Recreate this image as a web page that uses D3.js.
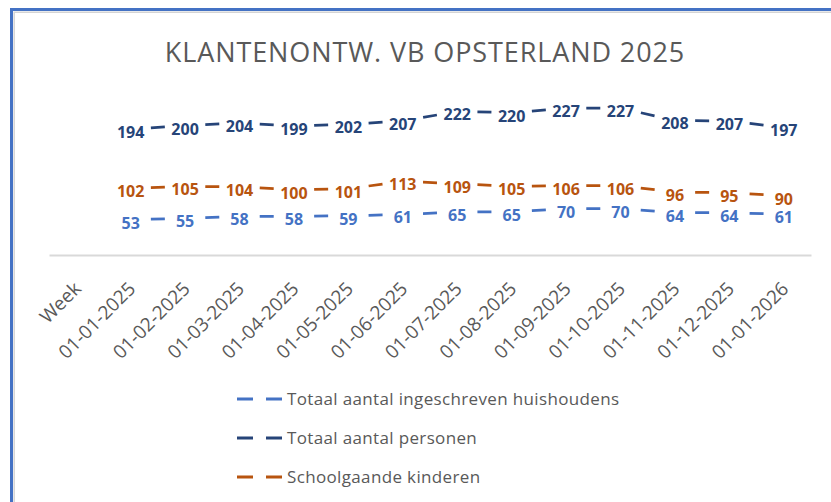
<!DOCTYPE html>
<html>
<head>
<meta charset="utf-8">
<script src="https://cdn.jsdelivr.net/npm/d3@7"></script>
<style>
  body { margin: 0; background: #fff; }
  text { font-family: "Open Sans", sans-serif; }
</style>
</head>
<body>
<div id="chart"></div>
<script>
// Data
const categories = ["Week", "01-01-2025", "01-02-2025", "01-03-2025", "01-04-2025", "01-05-2025",
    "01-06-2025", "01-07-2025", "01-08-2025", "01-09-2025", "01-10-2025", "01-11-2025",
    "01-12-2025", "01-01-2026"];
const dates = categories.slice(1);
const huishoudens = [53, 55, 58, 58, 59, 61, 65, 65, 70, 70, 64, 64, 61];
const personen = [194, 200, 204, 199, 202, 207, 222, 220, 227, 227, 208, 207, 197];
const kinderen = [102, 105, 104, 100, 101, 113, 109, 105, 106, 106, 96, 95, 90];
const seriesNames = ["Totaal aantal ingeschreven huishoudens", "Totaal aantal personen", "Schoolgaande kinderen"];
const seriesColors = ["#4472C4", "#264478", "#B8540F"];

const W = 831, H = 502;
const svg = d3.select("#chart").append("svg")
    .attr("width", W)
    .attr("height", H);

// Kader
svg.append("path")
    .attr("d", "M14.2,502V12.2H831")
    .attr("fill", "none")
    .attr("stroke", "#d4d4d4")
    .attr("stroke-width", 1.5);
svg.append("path")
    .attr("d", "M11.5,502V9.5H831")
    .attr("fill", "none")
    .attr("stroke", "#4472C4")
    .attr("stroke-width", 3);

// Titel
svg.append("text")
    .attr("x", 425)
    .attr("y", 62)
    .attr("text-anchor", "middle")
    .attr("fill", "#595959")
    .style("font-size", "27px")
    .style("letter-spacing", "0.9px")
    .text("KLANTENONTW. VB OPSTERLAND 2025");

// Schalen
const xScale = d3.scaleBand()
    .domain(categories)
    .range([49, 811]);
const xPos = d => xScale(d) + xScale.bandwidth() / 2;

const yScale = d3.scaleLinear()
    .domain([0, 250])
    .range([253.5, 93.5]);

// X-as
const xAxis = svg.append("g")
    .attr("transform", "translate(0, 255)")
    .call(d3.axisBottom(xScale).tickSize(0).tickSizeOuter(0));
xAxis.select(".domain")
    .attr("stroke", "#d9d9d9")
    .attr("stroke-width", 2);
xAxis.selectAll(".tick text")
    .attr("x", 0).attr("y", 0).attr("dy", 0)
    .attr("transform", "translate(6, 35) rotate(-45)")
    .style("text-anchor", "end")
    .style("font-size", "19px")
    .style("font-family", "Open Sans, sans-serif")
    .attr("fill", "#595959");

// Lijnen + labels
const allSeries = [huishoudens, personen, kinderen];
const line = d3.line()
    .x(d => xPos(d.date))
    .y(d => yScale(d.value));

allSeries.forEach((values, s) => {
    const points = values.map((v, i) => ({ date: dates[i], value: v }));
    const g = svg.append("g");
    for (let i = 0; i < points.length - 1; i++) {
        const seg = g.append("path")
            .datum([points[i], points[i + 1]])
            .attr("fill", "none")
            .attr("stroke", seriesColors[s])
            .attr("stroke-width", 2.75)
            .attr("d", line);
        const L = seg.node().getTotalLength();
        const dash = 14;
        seg.attr("stroke-dasharray", `0 ${(L - dash) / 2} ${dash} ${L}`);
    }
    g.selectAll("text")
        .data(points)
        .join("text")
        .attr("x", d => xPos(d.date))
        .attr("y", d => yScale(d.value) + 9)
        .attr("text-anchor", "middle")
        .attr("fill", seriesColors[s])
        .style("font-size", "16px")
        .style("font-weight", "bold")
        .text(d => d.value);
});

// Legenda
const legendY = [399, 438, 477];
seriesNames.forEach((name, i) => {
    svg.append("line")
        .attr("x1", 237).attr("x2", 282)
        .attr("y1", legendY[i]).attr("y2", legendY[i])
        .attr("stroke", seriesColors[i])
        .attr("stroke-width", 3)
        .attr("stroke-dasharray", "16 13");
    svg.append("text")
        .attr("x", 287)
        .attr("y", legendY[i] + 6)
        .attr("fill", "#595959")
        .style("font-size", "17px")
        .style("letter-spacing", "0.35px")
        .text(name);
});
</script>
</body>
</html>
